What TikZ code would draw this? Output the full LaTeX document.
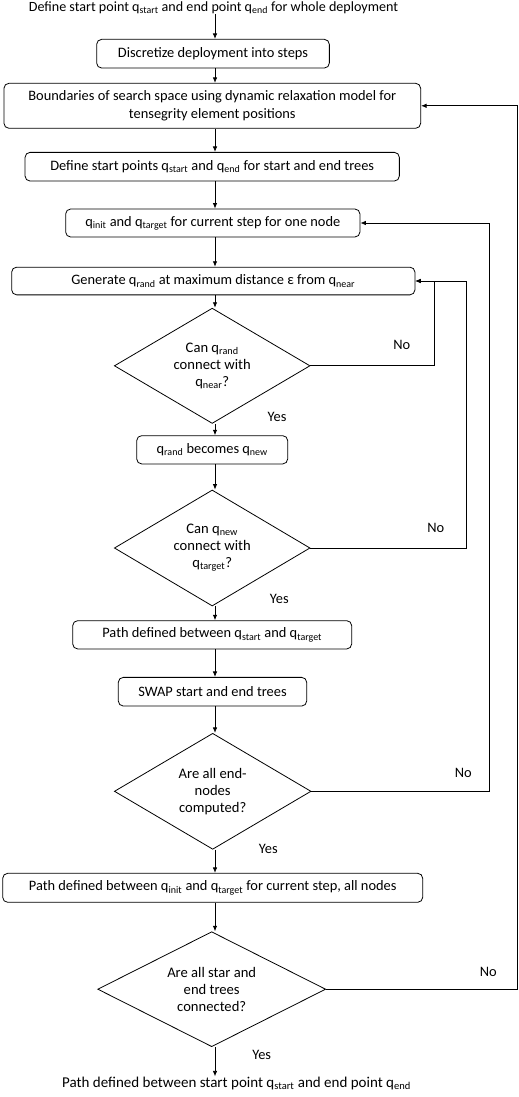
\documentclass[tikz,border=0pt]{standalone}
\usepackage{fontspec}
\setmainfont{Carlito}
\usetikzlibrary{arrows.meta,shapes.geometric,calc}
\newcommand\qq[1]{q\textsubscript{#1}}
\begin{document}
\begin{tikzpicture}[x=1pt,y=-1pt,
  every node/.style={font=\fontsize{14.4}{18}\selectfont, text=black},
  box/.style={draw, line width=0.8pt, rounded corners=5pt, inner sep=0pt, align=center},
  dia/.style={draw, line width=0.8pt, diamond, inner sep=0pt, align=center, aspect=1.7, font=\fontsize{14.6}{17}\selectfont},
  lbl/.style={inner sep=0pt},
  arr/.style={line width=0.8pt, -{Latex[length=5.5pt,width=4.5pt]}},
  ln/.style={line width=0.8pt}]
\useasboundingbox (0,0) rectangle (519,1097);
\coordinate (ax) at (215,0);
\node[lbl, font=\fontsize{14.1}{17}\selectfont] (start) at (213.5,8) {Define start point \qq{start} and end point \qq{end} for whole deployment};
\node[box, minimum width=232.7pt, minimum height=28.7pt] (disc) at (213,53.7) {Discretize deployment into steps};
\node[box, minimum width=416.7pt, minimum height=45pt] (bound) at (212.3,105.8) {Boundaries of search space using dynamic relaxation model for\\tensegrity element positions};
\node[box, minimum width=374.3pt, minimum height=28.7pt] (defs) at (212.2,166.7) {Define start points \qq{start} and \qq{end} for start and end trees};
\node[box, minimum width=294.3pt, minimum height=28pt] (init) at (212.8,223) {\qq{init} and \qq{target} for current step for one node};
\node[box, minimum width=403.3pt, minimum height=27.7pt] (gen) at (213.3,281) {Generate \qq{rand} at maximum distance ε from \qq{near}};
\node[dia, minimum width=195.7pt, minimum height=115.3pt] (d1) at (212.2,365.8) {Can \qq{rand}\\connect with\\\qq{near}?};
\node[box, minimum width=151pt, minimum height=28.3pt] (becomes) at (212.2,449.8) {\qq{rand} becomes \qq{new}};
\node[dia, minimum width=195.7pt, minimum height=116pt] (d2) at (212.2,548) {Can \qq{new}\\connect with\\\qq{target}?};
\node[box, minimum width=279pt, minimum height=28.3pt] (pathdef) at (212.2,634.8) {Path defined between \qq{start} and \qq{target}};
\node[box, minimum width=188.4pt, minimum height=28.7pt] (swap) at (212.5,691.7) {SWAP start and end trees};
\node[dia, minimum width=196.7pt, minimum height=116pt] (d3) at (212.7,791.3) {Are all end-\\nodes\\computed?};
\node[box, minimum width=420pt, minimum height=29pt] (pathall) at (212.7,887.8) {Path defined between \qq{init} and \qq{target} for current step, all nodes};
\node[dia, minimum width=228pt, minimum height=115pt] (d4) at (211.7,989.2) {Are all star and\\end trees\\connected?};
\node[lbl, font=\fontsize{15}{18}\selectfont] (end) at (236.5,1083) {Path defined between start point \qq{start} and end point \qq{end}};
% main flow
\draw[arr] (start.south -| ax) -- (disc.north -| ax);
\draw[arr] (disc.south -| ax) -- (bound.north -| ax);
\draw[arr] (bound.south -| ax) -- (defs.north -| ax);
\draw[arr] (defs.south -| ax) -- (init.north -| ax);
\draw[arr] (init.south -| ax) -- (gen.north -| ax);
\draw[arr] (gen.south -| ax) -- (d1.north -| ax);
\draw[arr] (d1.south -| ax) -- (becomes.north -| ax);
\draw[arr] (becomes.south -| ax) -- (d2.north -| ax);
\draw[arr] (d2.south -| ax) -- (pathdef.north -| ax);
\draw[arr] (pathdef.south -| ax) -- (swap.north -| ax);
\draw[arr] (swap.south -| ax) -- (d3.north -| ax);
\draw[arr] (d3.south -| ax) -- (pathall.north -| ax);
\draw[arr] (pathall.south -| ax) -- (d4.north -| ax);
\draw[arr] (d4.south -| ax) -- (end.north -| ax);
% loops
\coordinate (c1) at (434,0);
\coordinate (c2) at (466,0);
\coordinate (c3) at (489,0);
\coordinate (c4) at (517,0);
\draw[arr] (d1.east) -- (d1.east -| c1) -- (gen.east -| c1) -- (gen.east);
\draw[arr] (d2.east) -- (d2.east -| c2) -- (gen.east -| c2) -- (gen.east);
\draw[arr] (d3.east) -- (d3.east -| c3) -- (init.east -| c3) -- (init.east);
\draw[arr] (d4.east) -- (d4.east -| c4) -- (bound.east -| c4) -- (bound.east);
% labels
\node[lbl] (no1) at (401.7,345) {No};
\node[lbl] (yes1) at (277,416.7) {Yes};
\node[lbl] (no2) at (435.7,527.7) {No};
\node[lbl] (yes2) at (279.3,598.7) {Yes};
\node[lbl] (no3) at (463.3,773.3) {No};
\node[lbl] (yes3) at (268.3,849.3) {Yes};
\node[lbl] (no4) at (488.3,971.7) {No};
\node[lbl] (yes4) at (261.7,1055) {Yes};
\end{tikzpicture}
\end{document}
